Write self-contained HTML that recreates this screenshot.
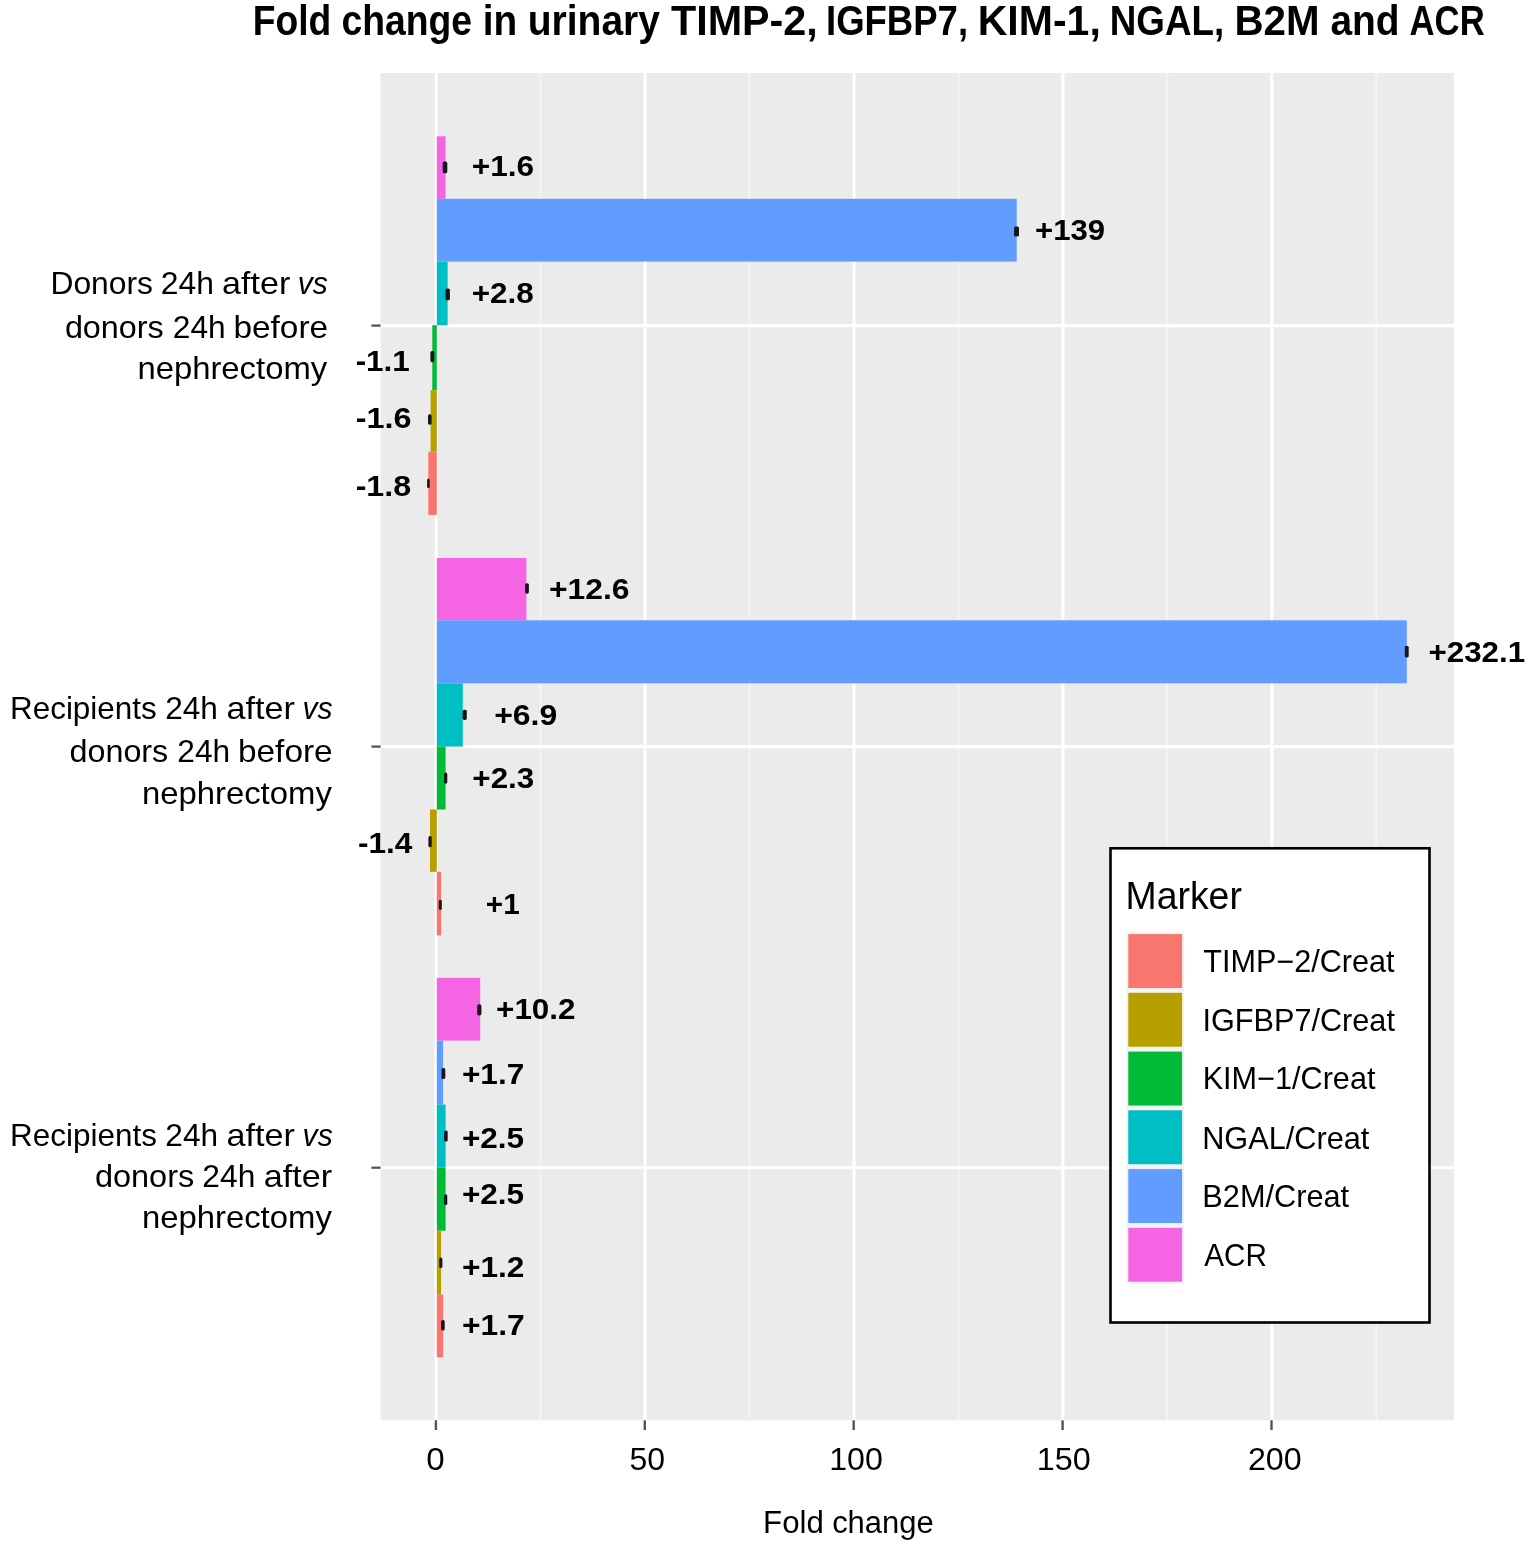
<!DOCTYPE html>
<html lang="en"><head><meta charset="utf-8"><title>Fold change in urinary TIMP-2, IGFBP7, KIM-1, NGAL, B2M and ACR</title>
<style>html,body{margin:0;padding:0;background:#fff}svg{display:block}text{font-family:"Liberation Sans",sans-serif;fill:#000}.b{font-weight:bold}</style></head><body>
<svg width="1534" height="1552" viewBox="0 0 1534 1552">
<rect x="0" y="0" width="1534" height="1552" fill="#fff"/>
<g id="chart">
<rect x="380.6" y="73.0" width="1073.2" height="1347.3" fill="#EBEBEB"/>
<g stroke="#F4F4F4" stroke-width="2.0">
<line x1="540.6" y1="73.0" x2="540.6" y2="1420.3"/>
<line x1="749.5" y1="73.0" x2="749.5" y2="1420.3"/>
<line x1="958.5" y1="73.0" x2="958.5" y2="1420.3"/>
<line x1="1167.3" y1="73.0" x2="1167.3" y2="1420.3"/>
<line x1="1376.2" y1="73.0" x2="1376.2" y2="1420.3"/>
</g>
<g stroke="#FFFFFF" stroke-width="3.1">
<line x1="436.2" y1="73.0" x2="436.2" y2="1420.3"/>
<line x1="645.1" y1="73.0" x2="645.1" y2="1420.3"/>
<line x1="854.0" y1="73.0" x2="854.0" y2="1420.3"/>
<line x1="1062.9" y1="73.0" x2="1062.9" y2="1420.3"/>
<line x1="1271.8" y1="73.0" x2="1271.8" y2="1420.3"/>
<line x1="380.6" y1="325.6" x2="1453.8" y2="325.6"/>
<line x1="380.6" y1="746.6" x2="1453.8" y2="746.6"/>
<line x1="380.6" y1="1167.7" x2="1453.8" y2="1167.7"/>
</g>
<g id="bars">
<rect x="436.8" y="136.3" width="8.8" height="62.5" fill="#F564E3"/>
<rect x="436.8" y="198.8" width="579.9" height="62.8" fill="#619CFF"/>
<rect x="436.8" y="261.6" width="10.8" height="63.6" fill="#00BFC4"/>
<rect x="432.3" y="325.2" width="4.5" height="65.0" fill="#00BA38"/>
<rect x="430.6" y="390.2" width="6.2" height="61.5" fill="#B79F00"/>
<rect x="428.3" y="451.7" width="8.5" height="63.2" fill="#F8766D"/>
<rect x="436.8" y="558.0" width="89.6" height="62.3" fill="#F564E3"/>
<rect x="436.8" y="620.3" width="970.0" height="63.0" fill="#619CFF"/>
<rect x="436.8" y="683.3" width="26.0" height="63.3" fill="#00BFC4"/>
<rect x="436.8" y="746.6" width="8.8" height="62.9" fill="#00BA38"/>
<rect x="430.0" y="809.5" width="6.8" height="62.3" fill="#B79F00"/>
<rect x="436.8" y="871.8" width="4.3" height="63.6" fill="#F8766D"/>
<rect x="436.8" y="977.8" width="43.4" height="62.8" fill="#F564E3"/>
<rect x="436.8" y="1040.6" width="6.3" height="64.0" fill="#619CFF"/>
<rect x="436.8" y="1104.6" width="8.8" height="63.1" fill="#00BFC4"/>
<rect x="436.8" y="1167.7" width="8.8" height="63.0" fill="#00BA38"/>
<rect x="436.8" y="1230.7" width="4.3" height="63.8" fill="#B79F00"/>
<rect x="436.8" y="1294.5" width="6.3" height="62.9" fill="#F8766D"/>
</g>
<g fill="#16161c">
<rect x="442.7" y="161.6" width="4.6" height="11.7" rx="1.6"/>
<rect x="1014.1" y="226.5" width="4.9" height="10.1" rx="1.6"/>
<rect x="445.5" y="288.5" width="4.4" height="11.8" rx="1.6"/>
<rect x="430.4" y="351.1" width="3.8" height="11.1" rx="1.6"/>
<rect x="428.0" y="414.3" width="3.6" height="10.4" rx="1.6"/>
<rect x="427.1" y="478.6" width="2.6" height="9.6" rx="1.6"/>
<rect x="525.1" y="583.2" width="3.8" height="10.5" rx="1.6"/>
<rect x="1404.8" y="645.7" width="3.9" height="11.8" rx="1.6"/>
<rect x="462.6" y="709.7" width="4.2" height="10.2" rx="1.6"/>
<rect x="444.1" y="772.6" width="3.2" height="11.1" rx="1.6"/>
<rect x="428.4" y="836.1" width="3.3" height="11.2" rx="1.6"/>
<rect x="438.8" y="899.7" width="3.0" height="10.2" rx="1.6"/>
<rect x="477.2" y="1004.3" width="4.2" height="11.1" rx="1.6"/>
<rect x="441.5" y="1067.9" width="3.8" height="11.1" rx="1.6"/>
<rect x="444.1" y="1130.5" width="3.6" height="11.1" rx="1.6"/>
<rect x="444.1" y="1194.3" width="3.2" height="10.7" rx="1.6"/>
<rect x="439.2" y="1257.5" width="3.2" height="10.5" rx="1.6"/>
<rect x="441.1" y="1320.1" width="3.6" height="10.5" rx="1.6"/>
</g>
<g stroke="#555555" stroke-width="2.4">
<line x1="435.9" y1="1420.3" x2="435.9" y2="1430.0"/>
<line x1="644.8" y1="1420.3" x2="644.8" y2="1430.0"/>
<line x1="853.7" y1="1420.3" x2="853.7" y2="1430.0"/>
<line x1="1062.6" y1="1420.3" x2="1062.6" y2="1430.0"/>
<line x1="1271.5" y1="1420.3" x2="1271.5" y2="1430.0"/>
</g><g stroke="#555555" stroke-width="2.3">
<line x1="371.4" y1="325.6" x2="380.6" y2="325.6"/>
<line x1="371.4" y1="746.6" x2="380.6" y2="746.6"/>
<line x1="371.4" y1="1167.7" x2="380.6" y2="1167.7"/>
</g>
<text class="b" font-size="41.6" y="34.7"><tspan x="252.74" textLength="78.56" lengthAdjust="spacingAndGlyphs">Fold</tspan> <tspan x="341.46" textLength="130.48" lengthAdjust="spacingAndGlyphs">change</tspan> <tspan x="482.74" textLength="34.47" lengthAdjust="spacingAndGlyphs">in</tspan> <tspan x="527.65" textLength="132.40" lengthAdjust="spacingAndGlyphs">urinary</tspan> <tspan x="670.95" textLength="146.89" lengthAdjust="spacingAndGlyphs">TIMP-2,</tspan> <tspan x="825.99" textLength="142.05" lengthAdjust="spacingAndGlyphs">IGFBP7,</tspan> <tspan x="977.69" textLength="123.13" lengthAdjust="spacingAndGlyphs">KIM-1,</tspan> <tspan x="1109.77" textLength="114.38" lengthAdjust="spacingAndGlyphs">NGAL,</tspan> <tspan x="1234.44" textLength="85.06" lengthAdjust="spacingAndGlyphs">B2M</tspan> <tspan x="1330.43" textLength="69.20" lengthAdjust="spacingAndGlyphs">and</tspan> <tspan x="1409.57" textLength="75.16" lengthAdjust="spacingAndGlyphs">ACR</tspan></text>
<text font-size="31.2" y="294.2"><tspan x="50.45" textLength="102.55" lengthAdjust="spacingAndGlyphs">Donors</tspan> <tspan x="160.87" textLength="53.18" lengthAdjust="spacingAndGlyphs">24h</tspan> <tspan x="222.14" textLength="68.13" lengthAdjust="spacingAndGlyphs">after</tspan> <tspan x="297.81" textLength="30.06" lengthAdjust="spacingAndGlyphs" font-style="italic">vs</tspan></text>
<text font-size="31.2" y="338.0"><tspan x="64.90" textLength="98.89" lengthAdjust="spacingAndGlyphs">donors</tspan> <tspan x="172.78" textLength="52.86" lengthAdjust="spacingAndGlyphs">24h</tspan> <tspan x="233.46" textLength="94.64" lengthAdjust="spacingAndGlyphs">before</tspan></text>
<text font-size="31.2" y="718.7"><tspan x="9.98" textLength="146.80" lengthAdjust="spacingAndGlyphs">Recipients</tspan> <tspan x="165.18" textLength="52.75" lengthAdjust="spacingAndGlyphs">24h</tspan> <tspan x="226.43" textLength="68.34" lengthAdjust="spacingAndGlyphs">after</tspan> <tspan x="302.41" textLength="30.06" lengthAdjust="spacingAndGlyphs" font-style="italic">vs</tspan></text>
<text font-size="31.2" y="762.1"><tspan x="69.51" textLength="98.78" lengthAdjust="spacingAndGlyphs">donors</tspan> <tspan x="177.28" textLength="52.86" lengthAdjust="spacingAndGlyphs">24h</tspan> <tspan x="237.96" textLength="94.74" lengthAdjust="spacingAndGlyphs">before</tspan></text>
<text font-size="31.2" y="1145.9"><tspan x="10.08" textLength="146.90" lengthAdjust="spacingAndGlyphs">Recipients</tspan> <tspan x="165.38" textLength="52.75" lengthAdjust="spacingAndGlyphs">24h</tspan> <tspan x="226.63" textLength="68.34" lengthAdjust="spacingAndGlyphs">after</tspan> <tspan x="302.61" textLength="30.06" lengthAdjust="spacingAndGlyphs" font-style="italic">vs</tspan></text>
<text font-size="31.2" y="1186.7"><tspan x="94.90" textLength="99.30" lengthAdjust="spacingAndGlyphs">donors</tspan> <tspan x="202.37" textLength="52.96" lengthAdjust="spacingAndGlyphs">24h</tspan> <tspan x="263.83" textLength="68.34" lengthAdjust="spacingAndGlyphs">after</tspan></text>
<text font-size="31.0" y="1533.2"><tspan x="763.08" textLength="60.68" lengthAdjust="spacingAndGlyphs">Fold</tspan> <tspan x="832.15" textLength="101.55" lengthAdjust="spacingAndGlyphs">change</tspan></text>
<text font-size="31.2" transform="translate(137.39,379.3) scale(1.0530,1)">nephrectomy</text>
<text font-size="31.2" transform="translate(141.89,803.9) scale(1.0536,1)">nephrectomy</text>
<text font-size="31.2" transform="translate(141.89,1228.4) scale(1.0536,1)">nephrectomy</text>
<text class="b" font-size="30.3" transform="translate(471.70,176.1) scale(1.0435,1)">+1.6</text>
<text class="b" font-size="30.3" transform="translate(1035.02,239.6) scale(1.0273,1)">+139</text>
<text class="b" font-size="30.3" transform="translate(471.70,302.8) scale(1.0390,1)">+2.8</text>
<text class="b" font-size="30.3" transform="translate(355.66,370.9) scale(1.0376,1)">-1.1</text>
<text class="b" font-size="30.3" transform="translate(355.63,428.2) scale(1.0687,1)">-1.6</text>
<text class="b" font-size="30.3" transform="translate(355.64,495.9) scale(1.0634,1)">-1.8</text>
<text class="b" font-size="30.3" transform="translate(548.89,599.4) scale(1.0510,1)">+12.6</text>
<text class="b" font-size="30.3" transform="translate(1428.51,661.9) scale(1.0339,1)">+232.1</text>
<text class="b" font-size="30.3" transform="translate(494.18,724.6) scale(1.0539,1)">+6.9</text>
<text class="b" font-size="30.3" transform="translate(472.30,788.0) scale(1.0365,1)">+2.3</text>
<text class="b" font-size="30.3" transform="translate(357.96,853.0) scale(1.0420,1)">-1.4</text>
<text class="b" font-size="30.3" transform="translate(485.87,914.0) scale(0.9815,1)">+1</text>
<text class="b" font-size="30.3" transform="translate(496.11,1018.6) scale(1.0357,1)">+10.2</text>
<text class="b" font-size="30.3" transform="translate(461.90,1084.1) scale(1.0428,1)">+1.7</text>
<text class="b" font-size="30.3" transform="translate(461.90,1147.9) scale(1.0407,1)">+2.5</text>
<text class="b" font-size="30.3" transform="translate(461.90,1203.7) scale(1.0407,1)">+2.5</text>
<text class="b" font-size="30.3" transform="translate(461.89,1276.6) scale(1.0452,1)">+1.2</text>
<text class="b" font-size="30.3" transform="translate(461.89,1335.3) scale(1.0498,1)">+1.7</text>
<text font-size="30.7" transform="translate(426.32,1469.8) scale(1.0800,1)">0</text>
<text font-size="30.7" transform="translate(629.50,1469.6) scale(1.0425,1)">50</text>
<text font-size="30.7" transform="translate(829.24,1469.6) scale(1.0471,1)">100</text>
<text font-size="30.7" transform="translate(1036.73,1469.6) scale(1.0534,1)">150</text>
<text font-size="30.7" transform="translate(1247.93,1469.6) scale(1.0495,1)">200</text>
</g>
<g id="legend">
<rect x="1110.5" y="848.3" width="319" height="474.2" fill="#fff" stroke="#000" stroke-width="2.6"/>
<rect x="1126.3" y="931.7" width="57.8" height="58.74" fill="#F2F2F2" stroke="#fff" stroke-width="0"/>
<rect x="1126.3" y="990.4" width="57.8" height="58.74" fill="#F2F2F2" stroke="#fff" stroke-width="0"/>
<rect x="1126.3" y="1049.2" width="57.8" height="58.74" fill="#F2F2F2" stroke="#fff" stroke-width="0"/>
<rect x="1126.3" y="1107.9" width="57.8" height="58.74" fill="#F2F2F2" stroke="#fff" stroke-width="0"/>
<rect x="1126.3" y="1166.7" width="57.8" height="58.74" fill="#F2F2F2" stroke="#fff" stroke-width="0"/>
<rect x="1126.3" y="1225.4" width="57.8" height="58.74" fill="#F2F2F2" stroke="#fff" stroke-width="0"/>
<rect x="1128.3" y="934.1" width="53.8" height="53.94" fill="#F8766D"/>
<rect x="1128.3" y="992.8" width="53.8" height="53.94" fill="#B79F00"/>
<rect x="1128.3" y="1051.6" width="53.8" height="53.94" fill="#00BA38"/>
<rect x="1128.3" y="1110.3" width="53.8" height="53.94" fill="#00BFC4"/>
<rect x="1128.3" y="1169.1" width="53.8" height="53.94" fill="#619CFF"/>
<rect x="1128.3" y="1227.8" width="53.8" height="53.94" fill="#F564E3"/>
<text font-size="38.8" transform="translate(1125.51,908.9) scale(0.9638,1)">Marker</text>
<text font-size="31.5" transform="translate(1203.21,971.8) scale(0.9717,1)">TIMP−2/Creat</text>
<text font-size="31.5" transform="translate(1202.42,1030.5) scale(0.9733,1)">IGFBP7/Creat</text>
<text font-size="31.5" transform="translate(1202.67,1089.2) scale(0.9726,1)">KIM−1/Creat</text>
<text font-size="31.5" transform="translate(1202.16,1148.5) scale(0.9746,1)">NGAL/Creat</text>
<text font-size="31.5" transform="translate(1202.36,1207.2) scale(0.9750,1)">B2M/Creat</text>
<text font-size="31.5" transform="translate(1204.30,1266.2) scale(0.9415,1)">ACR</text>
</g>
</svg></body></html>
